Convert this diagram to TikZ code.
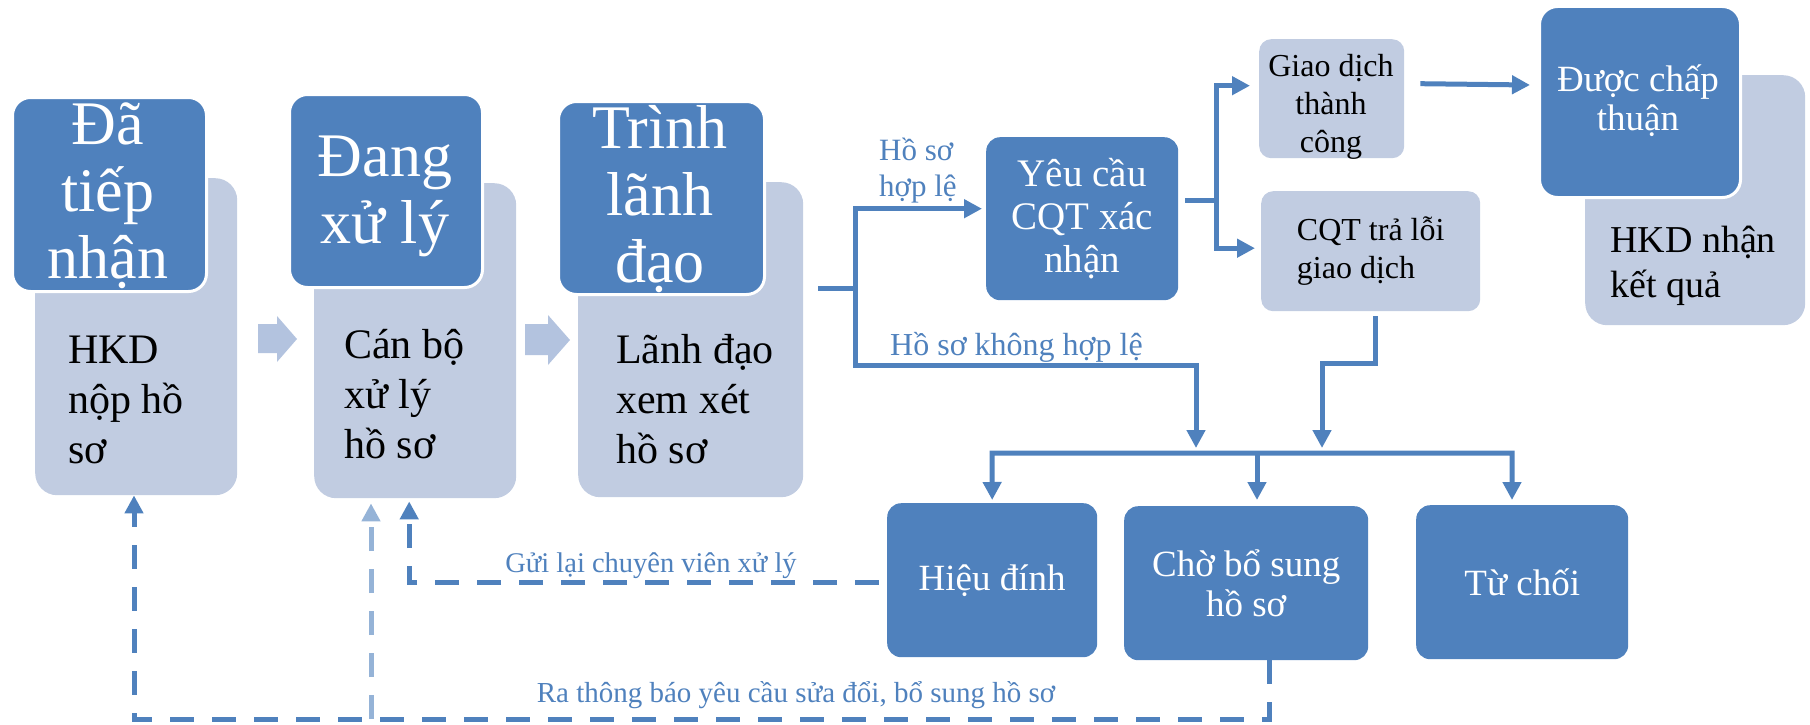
\documentclass[tikz,border=0pt]{standalone}
\usepackage{fontspec}
\setmainfont{Liberation Serif}
\usetikzlibrary{arrows.meta}
\usetikzlibrary{calc}
\definecolor{stagedark}{HTML}{4F81BD}
\definecolor{stagelight}{HTML}{C1CCE1}
\definecolor{chevfill}{HTML}{B3C3DF}
\definecolor{flowlight}{HTML}{95B3D7}

\begin{document}
\begin{tikzpicture}[
		x=1pt, y=-1pt,
		% Style definitions
		darkbox/.style={draw=white, line width=3pt, fill=stagedark, rounded corners=18pt, inner sep=0pt, anchor=north west},
		lightbox/.style={fill=stagelight, rounded corners=22pt, inner sep=0pt, anchor=north west},
		bluebox/.style={fill=stagedark, rounded corners=14pt, inner sep=0pt, text=white, align=center, anchor=north west},
		smallbox/.style={fill=stagelight, rounded corners=12pt, inner sep=0pt, align=left, anchor=north west},
		% multi-line text is placed at the baseline of its last line
		boxtext/.style={inner sep=0pt, align=left, anchor=base west},
		titletext/.style={inner sep=0pt, align=center, anchor=base, text=white, font=\fontsize{62}{67}\selectfont},
		flowlabel/.style={inner sep=0pt, text=stagedark},
		flowline/.style={draw=stagedark, line width=5pt},
		flowarrow/.style={flowline, -{Triangle[length=18pt, width=18pt]}},
		dasharrow/.style={flowarrow, dash pattern=on 24pt off 18pt},
		chevron/.style={fill=chevfill},
		]
		\useasboundingbox (0,0) rectangle (1810,725);

		% === ROW 1: Stage boxes (light body first, dark title on top) ===
		\node[lightbox, minimum width=202pt, minimum height=317pt] (recv) at (35,178) {};
		\node[darkbox, minimum width=194pt, minimum height=194pt] (recvT) at (11,96) {};
		\node[titletext] (recvN) at (108,278) {Đã\\tiếp\\nhận};
		\node[boxtext, font=\fontsize{42}{50}\selectfont] (recvD) at (68,463) {HKD\\nộp hồ\\sơ};

		\node[lightbox, minimum width=202pt, minimum height=315pt] (proc) at (314,183) {};
		\node[darkbox, minimum width=193pt, minimum height=193pt] (procT) at (288,93) {};
		\node[titletext] (procN) at (385,243) {Đang\\xử lý};
		\node[boxtext, font=\fontsize{42}{50}\selectfont] (procD) at (344,458) {Cán bộ\\xử lý\\hồ sơ};

		\node[lightbox, minimum width=225pt, minimum height=315pt] (lead) at (578,182) {};
		\node[darkbox, minimum width=206pt, minimum height=193pt] (leadT) at (557,100) {};
		\node[titletext] (leadN) at (660,282) {Trình\\lãnh\\đạo};
		\node[boxtext, font=\fontsize{42}{50}\selectfont] (leadD) at (616,463) {Lãnh đạo\\xem xét\\hồ sơ};

		% Chevrons between stages
		\fill[chevron] (258,324) -- (277,324) -- (277,316) -- (297,339) -- (277,362) -- (277,353) -- (258,353) -- cycle;
		\fill[chevron] (525,324) -- (548,324) -- (548,315) -- (570,340) -- (548,365) -- (548,355) -- (525,355) -- cycle;

		% === ROW 0: Tax authority check ===
		\node[bluebox, minimum width=192pt, minimum height=163pt, font=\fontsize{39}{43}\selectfont] (ask) at (986,137) {Yêu cầu\\CQT xác\\nhận};
		\node[smallbox, minimum width=145pt, minimum height=119pt] (deal) at (1259,39) {};
		\node[boxtext, align=center, anchor=base, font=\fontsize{32}{38}\selectfont] (dealT) at (1331,152) {Giao dịch\\thành\\công};
		\node[smallbox, minimum width=219pt, minimum height=120pt, font=\fontsize{32}{38}\selectfont] (fail) at (1261,191) {CQT trả lỗi\\giao dịch};

		\node[lightbox, minimum width=220pt, minimum height=250pt] (result) at (1585,75) {};
		\node[darkbox, minimum width=201pt, minimum height=191pt] (approved) at (1538,5) {};
		\node[boxtext, align=center, anchor=base, text=white, font=\fontsize{37}{39}\selectfont] (approvedT) at (1638,130) {Được chấp\\thuận};
		\node[boxtext, font=\fontsize{38}{45}\selectfont] (resultT) at (1610,297) {HKD nhận\\kết quả};

		% === ROW 2: Outcomes ===
		\node[bluebox, minimum width=210pt, minimum height=154pt, font=\fontsize{37}{40}\selectfont] (fix) at (887,503) {Hiệu đính};
		\node[bluebox, minimum width=244pt, minimum height=154pt, font=\fontsize{37}{40}\selectfont] (wait) at (1124,506) {Chờ bổ sung\\hồ sơ};
		\node[bluebox, minimum width=212pt, minimum height=154pt, font=\fontsize{37}{40}\selectfont] (reject) at (1416,505) {Từ chối};

		% === Connectors ===
		\coordinate (leadOut) at (818,288);
		\coordinate (split) at (855,288);
		\coordinate (askOut) at (1185,200);
		\coordinate (split2) at (1216,200);
		\coordinate (dropA) at (1196,453);
		\coordinate (dropB) at (1322,453);
		\coordinate (failTurn) at (1322,363);
		\coordinate (barL) at (992,453);
		\coordinate (barM) at (1257,453);
		\coordinate (barR) at (1512,453);

		\draw[flowline] (leadOut) -- (split);
		\draw[flowarrow, shorten >=4pt] (split) |- ([yshift=10pt]ask.west);
		\draw[flowarrow, shorten >=5pt] (split) -- (split |- 0,365) -| (dropA);
		\draw[flowline] (askOut) -- (split2);
		\draw[flowarrow, shorten >=9pt] (split2) |- ([yshift=13pt]deal.west);
		\draw[flowarrow, shorten >=6pt] (split2) |- ([yshift=3pt]fail.west);
		\draw[flowarrow] ($(deal.east)+(16,-15)$) -- ($(approved.west)+(-8,-17)$);
		\draw[flowarrow, shorten >=5pt] ($(fail.south)+(4.5,5)$) |- (failTurn) -- (dropB);

		% Distribution bar to the three outcomes
		\draw[flowline, line join=miter, {Triangle[length=18pt, width=18pt]}-{Triangle[length=18pt, width=18pt]}, shorten <=3pt, shorten >=5pt]
			(fix.north) -- (barL) -- (barR) -- (barR |- reject.north);
		\draw[flowarrow, shorten >=6pt] (barM) -- (barM |- wait.north);

		% Dashed feedback loops
		\coordinate (noticeCorner) at (134,719);
		\coordinate (branch) at (371,719);
		\draw[dasharrow] ($(fix.west)+(-8,2)$) -| ($(proc.south)+(-6,3)$);
		\draw[dasharrow] ($(wait.south)+(23,0)$) |- (noticeCorner) -- (recv.south -| noticeCorner);
		\draw[dasharrow, color=flowlight] (branch) -- ($(proc.south -| branch)+(0,5)$);

		% Labels on connectors
		\node[flowlabel, align=left, anchor=base west, font=\fontsize{31}{36}\selectfont] (validLbl) at (879,196) {Hồ sơ\\hợp lệ};
		\node[flowlabel, anchor=base west, font=\fontsize{32}{36}\selectfont] (invalidLbl) at (890,355) {Hồ sơ không hợp lệ};
		\node[flowlabel, anchor=base, font=\fontsize{28.5}{32}\selectfont] (returnLbl) at (651,572) {Gửi lại chuyên viên xử lý};
		\node[flowlabel, anchor=base, font=\fontsize{29}{33}\selectfont] (noticeLbl) at (796,702) {Ra thông báo yêu cầu sửa đổi, bổ sung hồ sơ};

	\end{tikzpicture}
\end{document}
